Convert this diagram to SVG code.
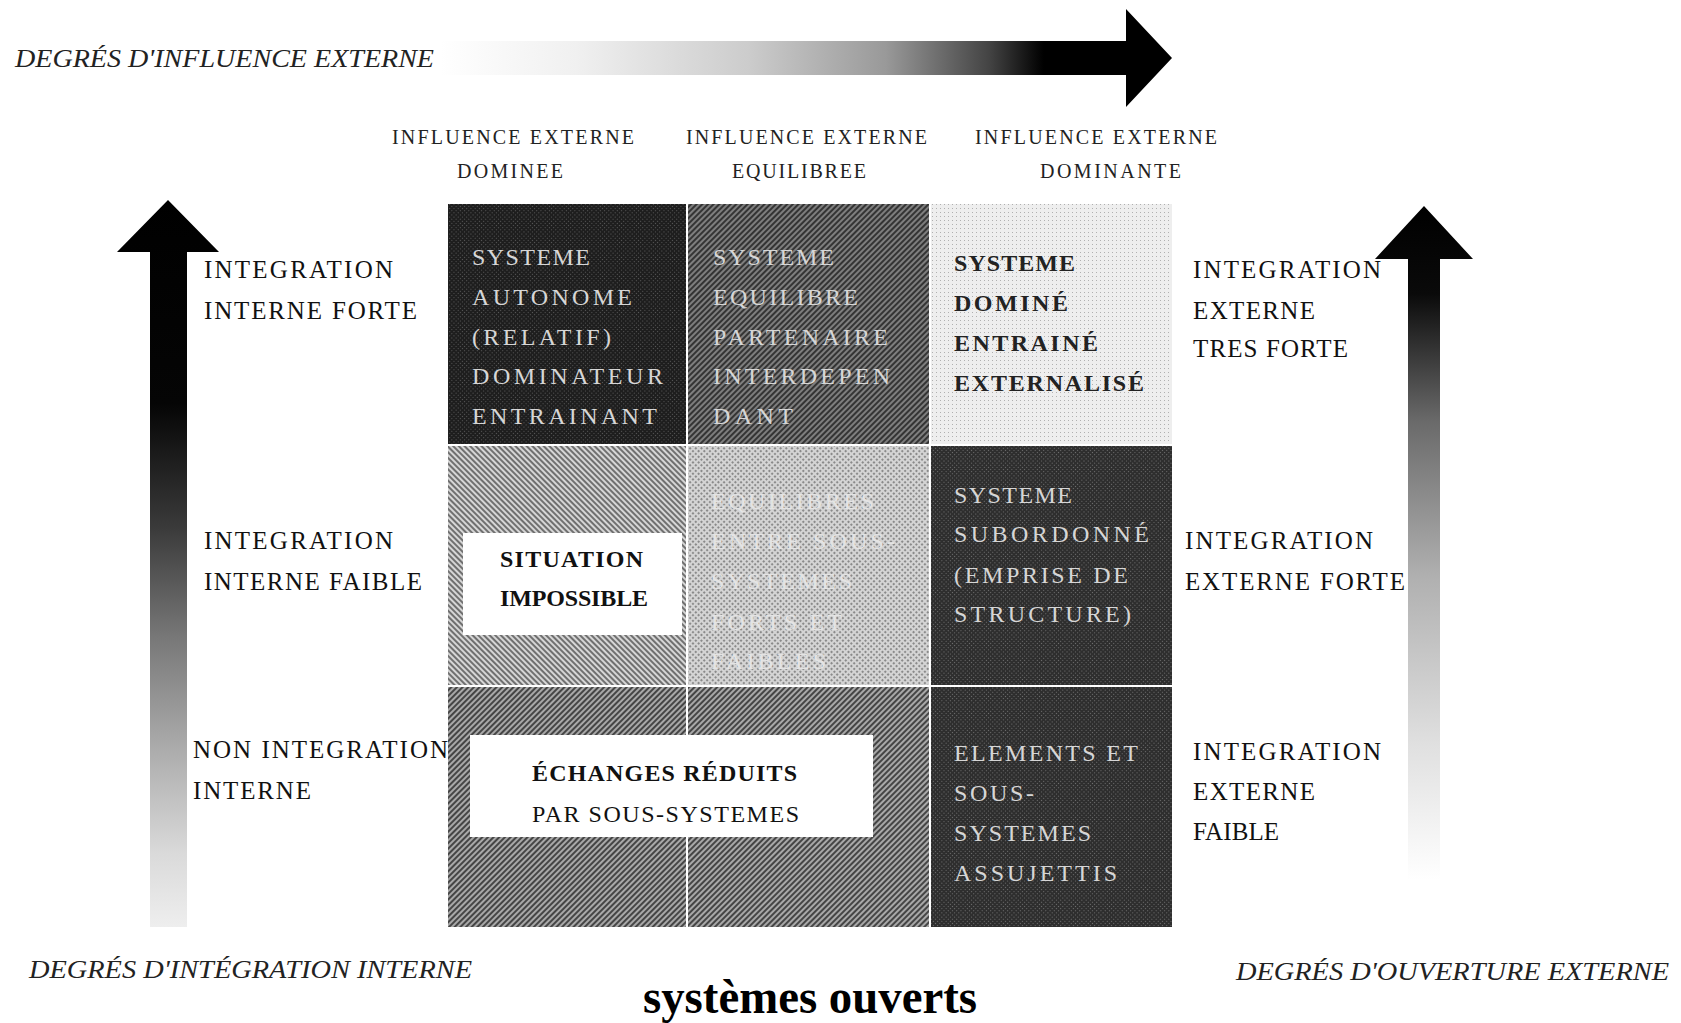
<svg xmlns="http://www.w3.org/2000/svg" width="1681" height="1023" viewBox="0 0 1681 1023">
<defs>
<linearGradient id="gTop" gradientUnits="userSpaceOnUse" x1="440" y1="0" x2="1126" y2="0">
<stop offset="0" stop-color="#ffffff"/>
<stop offset="0.2" stop-color="#f0f0f0"/>
<stop offset="0.45" stop-color="#cccccc"/>
<stop offset="0.65" stop-color="#999999"/>
<stop offset="0.8" stop-color="#444444"/>
<stop offset="0.88" stop-color="#000000"/>
<stop offset="1" stop-color="#000000"/>
</linearGradient>
<linearGradient id="gLeft" gradientUnits="userSpaceOnUse" x1="0" y1="200" x2="0" y2="927">
<stop offset="0" stop-color="#000000"/>
<stop offset="0.28" stop-color="#050505"/>
<stop offset="0.45" stop-color="#3a3a3a"/>
<stop offset="0.6" stop-color="#777777"/>
<stop offset="0.75" stop-color="#aaaaaa"/>
<stop offset="0.9" stop-color="#dadada"/>
<stop offset="1" stop-color="#eeeeee"/>
</linearGradient>
<linearGradient id="gRight" gradientUnits="userSpaceOnUse" x1="0" y1="206" x2="0" y2="880">
<stop offset="0" stop-color="#000000"/>
<stop offset="0.13" stop-color="#0a0a0a"/>
<stop offset="0.32" stop-color="#6a6a6a"/>
<stop offset="0.55" stop-color="#b0b0b0"/>
<stop offset="0.8" stop-color="#e0e0e0"/>
<stop offset="1" stop-color="#ffffff"/>
</linearGradient>
<pattern id="hatchA" width="4" height="4" patternUnits="userSpaceOnUse" patternTransform="rotate(45)">
<rect width="4" height="4" fill="#7e7e7e"/>
<rect width="2" height="4" fill="#343434"/>
</pattern>
<pattern id="hatchB" width="4" height="4" patternUnits="userSpaceOnUse" patternTransform="rotate(-45)">
<rect width="4" height="4" fill="#d6d6d6"/>
<rect width="2" height="4" fill="#707070"/>
</pattern>
<pattern id="hatchC" width="4" height="4" patternUnits="userSpaceOnUse" patternTransform="rotate(45)">
<rect width="4" height="4" fill="#a8a8a8"/>
<rect width="2" height="4" fill="#454545"/>
</pattern>
<pattern id="dotsD" width="3" height="3" patternUnits="userSpaceOnUse" patternTransform="rotate(45)">
<rect width="3" height="3" fill="#1e1e1e"/>
<rect width="1" height="1" fill="#5a5a5a"/>
</pattern>
<pattern id="dotsE" width="3" height="3" patternUnits="userSpaceOnUse" patternTransform="rotate(45)">
<rect width="3" height="3" fill="#2e2e2e"/>
<rect width="1" height="1" fill="#707070"/>
</pattern>
<pattern id="dotsL" width="4" height="4" patternUnits="userSpaceOnUse">
<rect width="4" height="4" fill="#eeeeee"/>
<rect width="1" height="1" fill="#b0b0b0"/>
</pattern>
<pattern id="checkM" width="4" height="4" patternUnits="userSpaceOnUse" patternTransform="rotate(45)">
<rect width="4" height="4" fill="#d4d4d4"/>
<rect width="2" height="2" fill="#8a8a8a"/>
</pattern>
</defs>
<style>
.lab{font-family:"Liberation Serif","DejaVu Serif",serif;font-size:25px;fill:#111}
.hdr{font-family:"Liberation Serif","DejaVu Serif",serif;font-size:20px;fill:#222}
.ax{font-family:"Liberation Serif","DejaVu Serif",serif;font-style:italic;font-size:26px;fill:#222}
.cw{font-family:"Liberation Serif","DejaVu Serif",serif;font-size:24px;fill:#d6d6d6}
.cl{font-family:"Liberation Serif","DejaVu Serif",serif;font-size:24px;fill:#e4e4e4}
.cb{font-family:"Liberation Serif","DejaVu Serif",serif;font-size:24px;font-weight:bold;fill:#222}
.box{fill:#ffffff}
.bt{font-family:"Liberation Serif","DejaVu Serif",serif;font-size:24px;fill:#111}
.btb{font-family:"Liberation Serif","DejaVu Serif",serif;font-size:24px;font-weight:bold;fill:#111}
.ttl{font-family:"Liberation Serif","DejaVu Serif",serif;font-size:48px;font-weight:bold;fill:#000}
</style>
<rect width="1681" height="1023" fill="#ffffff"/>

<g id="connectors">
<path id="arrow-top" d="M440,41 L1126,41 L1126,9 L1172,58 L1126,107 L1126,75 L440,75 Z" fill="url(#gTop)"/>
<path id="arrow-left" d="M150,927 L150,252 L117,252 L168,200 L219,252 L187,252 L187,927 Z" fill="url(#gLeft)"/>
<path id="arrow-right" d="M1408,880 L1408,259 L1375,259 L1424,206 L1473,259 L1440,259 L1440,880 Z" fill="url(#gRight)"/>
</g>

<g id="axis-top-label"><text class="ax" x="15" y="67" textLength="419" lengthAdjust="spacingAndGlyphs">DEGRÉS D'INFLUENCE EXTERNE</text></g>

<g id="col-headers">
<text class="hdr" x="392" y="144" textLength="242">INFLUENCE EXTERNE</text>
<text class="hdr" x="457" y="178" textLength="106">DOMINEE</text>
<text class="hdr" x="686" y="144" textLength="241">INFLUENCE EXTERNE</text>
<text class="hdr" x="732" y="178" textLength="134">EQUILIBREE</text>
<text class="hdr" x="975" y="144" textLength="242">INFLUENCE EXTERNE</text>
<text class="hdr" x="1040" y="178" textLength="141">DOMINANTE</text>
</g>

<g id="grid">
<rect id="cell-0-0" x="448" y="204" width="238" height="240" fill="url(#dotsD)"/>
<rect id="cell-1-0" x="688" y="204" width="241" height="240" fill="url(#hatchA)"/>
<rect id="cell-2-0" x="931" y="204" width="241" height="240" fill="url(#dotsL)"/>
<rect id="cell-0-1" x="448" y="446" width="238" height="239" fill="url(#hatchB)"/>
<rect id="cell-1-1" x="688" y="446" width="241" height="239" fill="url(#checkM)"/>
<rect id="cell-2-1" x="931" y="446" width="241" height="239" fill="url(#dotsE)"/>
<rect id="cell-0-2" x="448" y="687" width="238" height="240" fill="url(#hatchC)"/>
<rect id="cell-1-2" x="688" y="687" width="241" height="240" fill="url(#hatchC)"/>
<rect id="cell-2-2" x="931" y="687" width="241" height="240" fill="url(#dotsE)"/>
</g>

<g id="node-autonome">
<text class="cw" x="472" y="265" textLength="118">SYSTEME</text>
<text class="cw" x="472" y="305" textLength="160">AUTONOME</text>
<text class="cw" x="472" y="345" textLength="139">(RELATIF)</text>
<text class="cw" x="472" y="384" textLength="191">DOMINATEUR</text>
<text class="cw" x="472" y="424" textLength="185">ENTRAINANT</text>
</g>
<g id="node-equilibre">
<text class="cw" x="713" y="265" textLength="121">SYSTEME</text>
<text class="cw" x="713" y="305" textLength="145">EQUILIBRE</text>
<text class="cw" x="713" y="345" textLength="175">PARTENAIRE</text>
<text class="cw" x="713" y="384" textLength="177">INTERDEPEN</text>
<text class="cw" x="713" y="424" textLength="80">DANT</text>
</g>
<g id="node-domine">
<text class="cb" x="954" y="271" textLength="121">SYSTEME</text>
<text class="cb" x="954" y="311" textLength="114">DOMINÉ</text>
<text class="cb" x="954" y="351" textLength="144">ENTRAINÉ</text>
<text class="cb" x="954" y="391" textLength="190">EXTERNALISÉ</text>
</g>
<g id="node-impossible">
<rect class="box" x="463" y="533" width="219" height="102"/>
<text class="btb" x="500" y="567" textLength="143">SITUATION</text>
<text class="btb" x="500" y="606" textLength="148">IMPOSSIBLE</text>
</g>
<g id="node-equilibres">
<text class="cl" x="711" y="509" textLength="163">EQUILIBRES</text>
<text class="cl" x="711" y="549" textLength="184">ENTRE SOUS-</text>
<text class="cl" x="711" y="589" textLength="141">SYSTEMES</text>
<text class="cl" x="711" y="630" textLength="131">FORTS ET</text>
<text class="cl" x="711" y="669" textLength="115">FAIBLES</text>
</g>
<g id="node-subordonne">
<text class="cw" x="954" y="503" textLength="118">SYSTEME</text>
<text class="cw" x="954" y="542" textLength="195">SUBORDONNÉ</text>
<text class="cw" x="954" y="583" textLength="174">(EMPRISE DE</text>
<text class="cw" x="954" y="622" textLength="177">STRUCTURE)</text>
</g>
<g id="node-echanges">
<rect class="box" x="470" y="735" width="403" height="102"/>
<text class="btb" x="532" y="781" textLength="265">ÉCHANGES RÉDUITS</text>
<text class="bt" x="532" y="822" textLength="267">PAR SOUS-SYSTEMES</text>
</g>
<g id="node-assujettis">
<text class="cw" x="954" y="761" textLength="184">ELEMENTS ET</text>
<text class="cw" x="954" y="801" textLength="80">SOUS-</text>
<text class="cw" x="954" y="841" textLength="137">SYSTEMES</text>
<text class="cw" x="954" y="881" textLength="163">ASSUJETTIS</text>
</g>

<g id="left-labels">
<text class="lab" x="204" y="278" textLength="189">INTEGRATION</text>
<text class="lab" x="204" y="319" textLength="213">INTERNE FORTE</text>
<text class="lab" x="204" y="549" textLength="189">INTEGRATION</text>
<text class="lab" x="204" y="590" textLength="218">INTERNE FAIBLE</text>
<text class="lab" x="193" y="758" textLength="255">NON INTEGRATION</text>
<text class="lab" x="193" y="799" textLength="118">INTERNE</text>
</g>

<g id="right-labels">
<text class="lab" x="1193" y="278" textLength="188">INTEGRATION</text>
<text class="lab" x="1193" y="319" textLength="122">EXTERNE</text>
<text class="lab" x="1193" y="357" textLength="155">TRES FORTE</text>
<text class="lab" x="1185" y="549" textLength="188">INTEGRATION</text>
<text class="lab" x="1185" y="590" textLength="220">EXTERNE FORTE</text>
<text class="lab" x="1193" y="760" textLength="188">INTEGRATION</text>
<text class="lab" x="1193" y="800" textLength="122">EXTERNE</text>
<text class="lab" x="1193" y="840" textLength="86">FAIBLE</text>
</g>

<g id="bottom-labels">
<text class="ax" x="29" y="978" textLength="443" lengthAdjust="spacingAndGlyphs">DEGRÉS D'INTÉGRATION INTERNE</text>
<text class="ax" x="1236" y="980" textLength="433" lengthAdjust="spacingAndGlyphs">DEGRÉS D'OUVERTURE  EXTERNE</text>
</g>
<g id="title"><text class="ttl" x="643" y="1013" textLength="334" lengthAdjust="spacingAndGlyphs">systèmes ouverts</text></g>
</svg>
